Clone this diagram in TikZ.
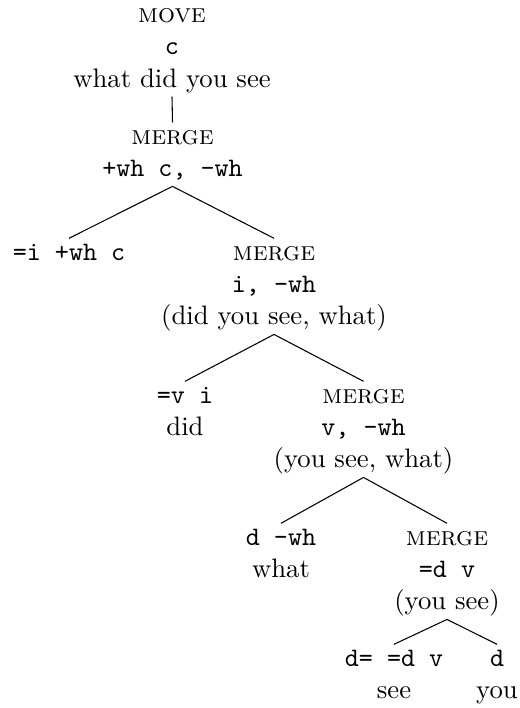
\documentclass[tikz,border=0pt]{standalone}
\begin{document}
\begin{tikzpicture}[x=0.3745pt,y=-0.3745pt,
  tn/.style={anchor=north,align=center,inner sep=0pt,outer sep=0pt},
  br/.style={line width=0.4pt}]
\useasboundingbox (0,0) rectangle (519,708);
\newcommand{\sr}{\strut}
\node[tn] (root) at (172,0.5) {\sr\textsc{move}\\\sr\texttt{c}\\\sr what did you see};
\node[tn] (m1) at (172.5,122.3) {\sr\textsc{merge}\\\sr\texttt{+wh c, -wh}};
\node[tn] (l2) at (69,238.3) {\sr\texttt{=i +wh c}};
\node[tn] (m2) at (274,238.3) {\sr\textsc{merge}\\\sr\texttt{i, -wh}\\\sr(did you see, what)};
\node[tn] (l3) at (185,381.3) {\sr\texttt{=v i}\\\sr did};
\node[tn] (m3) at (363.5,381.3) {\sr\textsc{merge}\\\sr\texttt{v, -wh}\\\sr(you see, what)};
\node[tn] (l4) at (281,523.3) {\sr\texttt{d -wh}\\\sr what};
\node[tn] (m4) at (447,523.3) {\sr\textsc{merge}\\\sr\texttt{=d v}\\\sr(you see)};
\node[tn] (l5) at (394,644.3) {\sr\texttt{d= =d v}\\\sr see};
\node[tn] (r5) at (497,644.3) {\sr\texttt{d}\\\sr you};
\draw[br] (root.south) -- (m1.north);
\draw[br] (m1.south) -- (l2.north);
\draw[br] (m1.south) -- (m2.north);
\draw[br] (m2.south) -- (l3.north);
\draw[br] (m2.south) -- (m3.north);
\draw[br] (m3.south) -- (l4.north);
\draw[br] (m3.south) -- (m4.north);
\draw[br] (m4.south) -- (l5.north);
\draw[br] (m4.south) -- (r5.north);
\end{tikzpicture}
\end{document}
